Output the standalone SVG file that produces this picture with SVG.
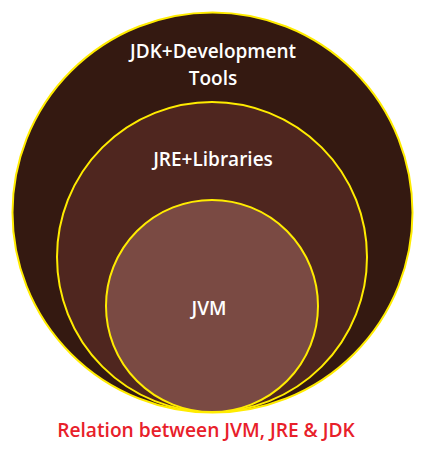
<svg xmlns="http://www.w3.org/2000/svg" width="421" height="460" viewBox="0 0 421 460">
<style>
.ring{stroke:#ffec00;stroke-width:2}
.lbl{font-family:"Open Sans","Liberation Sans",sans-serif;font-weight:600;font-size:19px;fill:#ffffff;text-anchor:middle}
.cap{font-family:"Open Sans","Liberation Sans",sans-serif;font-weight:600;font-size:19.2px;fill:#e8202a;text-anchor:middle}
</style>
<rect width="421" height="460" fill="#ffffff"/>
<g id="jdk">
<circle class="ring" cx="212.5" cy="212.5" r="200" fill="#341911"/>
<text class="lbl" x="213" y="58">JDK+Development</text>
<text class="lbl" x="213" y="84.5">Tools</text>
</g>
<g id="jre">
<circle class="ring" cx="212" cy="257" r="155" fill="#4f261f"/>
<text class="lbl" x="213" y="166">JRE+Libraries</text>
</g>
<g id="jvm">
<circle class="ring" cx="212" cy="306" r="106" fill="#7a4a43"/>
<text class="lbl" x="209" y="315">JVM</text>
</g>
<g id="connectors"/>
<text class="cap" x="206" y="437">Relation between JVM, JRE &amp; JDK</text>
</svg>
